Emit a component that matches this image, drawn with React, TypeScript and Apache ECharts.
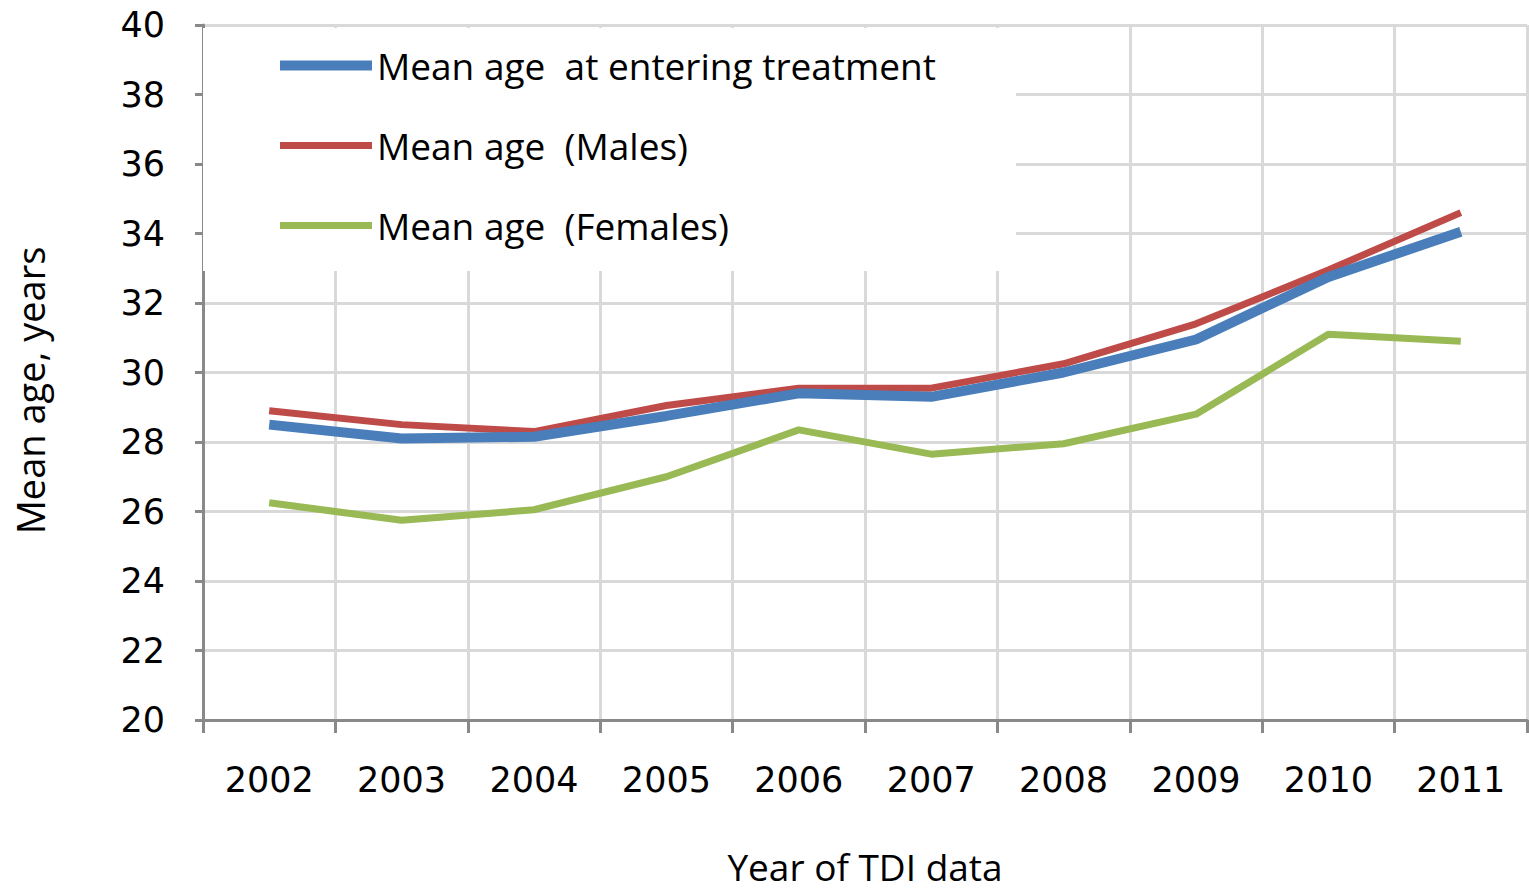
import React, { useEffect, useRef } from "react";
import * as echarts from "echarts";

const years = ["2002", "2003", "2004", "2005", "2006", "2007", "2008", "2009", "2010", "2011"];
const meanAll = [28.5, 28.1, 28.15, 28.75, 29.4, 29.3, 30.0, 30.95, 32.75, 34.05];
const meanMales = [28.9, 28.5, 28.3, 29.05, 29.55, 29.55, 30.25, 31.4, 32.95, 34.6];
const meanFemales = [26.25, 25.75, 26.05, 27.0, 28.35, 27.65, 27.95, 28.8, 31.1, 30.9];
const seriesNames = [
  "Mean age  at entering treatment",
  "Mean age  (Males)",
  "Mean age  (Females)",
];
const seriesColors = ["#4a7ebb", "#be4b48", "#98b954"];
const seriesWidths = [10, 7, 7];

const FONT = "'Open Sans'";
const NUMFONT = "'DejaVu Sans'";

export default function App() {
  const ref = useRef<HTMLDivElement>(null);
  useEffect(() => {
    if (!ref.current) return;
    const chart = echarts.init(ref.current, undefined, { renderer: "svg" });
    const seriesData = [meanAll, meanMales, meanFemales];
    chart.setOption({
      animation: false,
      backgroundColor: "#ffffff",
      grid: {
        left: 203,
        right: 2,
        top: 25,
        bottom: 175,
        containLabel: false,
        outerBoundsMode: "none",
      },
      legend: {
        orient: "vertical",
        left: 203,
        top: 28,
        backgroundColor: "#ffffff",
        padding: [19, 80, 27, 77],
        itemWidth: 92,
        itemHeight: 12,
        itemGap: 43,
        symbolKeepAspect: true,
        textStyle: { fontFamily: FONT, fontSize: 37, color: "#000000" },
        data: seriesNames.map((n, i) => ({
          name: n,
          icon: i === 0 ? "path://M0,0H92V10H0Z" : "path://M0,0H92V7H0Z",
          itemStyle: { color: seriesColors[i] },
        })),
      },
      xAxis: {
        type: "category",
        data: years,
        boundaryGap: true,
        name: "Year of TDI data",
        nameLocation: "middle",
        nameGap: 126,
        nameTextStyle: { fontFamily: FONT, fontSize: 37, color: "#000000", lineHeight: 40 },
        axisLine: { lineStyle: { color: "#898989", width: 3 } },
        axisTick: { show: true, length: 13, lineStyle: { color: "#898989", width: 3 } },
        axisLabel: { fontFamily: NUMFONT, fontSize: 35, color: "#000000", margin: 42 },
        splitLine: { show: true, lineStyle: { color: "#d9d9d9", width: 3 } },
      },
      yAxis: {
        type: "value",
        min: 20,
        max: 40,
        interval: 2,
        name: "Mean age, years",
        nameLocation: "middle",
        nameGap: 154,
        nameTextStyle: {
          fontFamily: FONT,
          fontSize: 38,
          color: "#000000",
          padding: [0, 36, 0, 0],
        },
        axisLine: { show: true, lineStyle: { color: "#898989", width: 3 } },
        axisTick: { show: true, length: 8, lineStyle: { color: "#898989", width: 3 } },
        axisLabel: { fontFamily: NUMFONT, fontSize: 35, color: "#000000", margin: 38 },
        splitLine: { show: true, lineStyle: { color: "#d9d9d9", width: 3 } },
      },
      series: seriesNames.map((n, i) => ({
        name: n,
        type: "line",
        data: seriesData[i],
        symbol: "none",
        z: i === 0 ? 3 : 2,
        lineStyle: { color: seriesColors[i], width: seriesWidths[i] },
        itemStyle: { color: seriesColors[i] },
      })),
    });
    return () => chart.dispose();
  }, []);
  return (
    <div
      ref={ref}
      style={{ position: "fixed", left: 0, top: 0, width: 1529, height: 895, background: "#fff" }}
    />
  );
}
